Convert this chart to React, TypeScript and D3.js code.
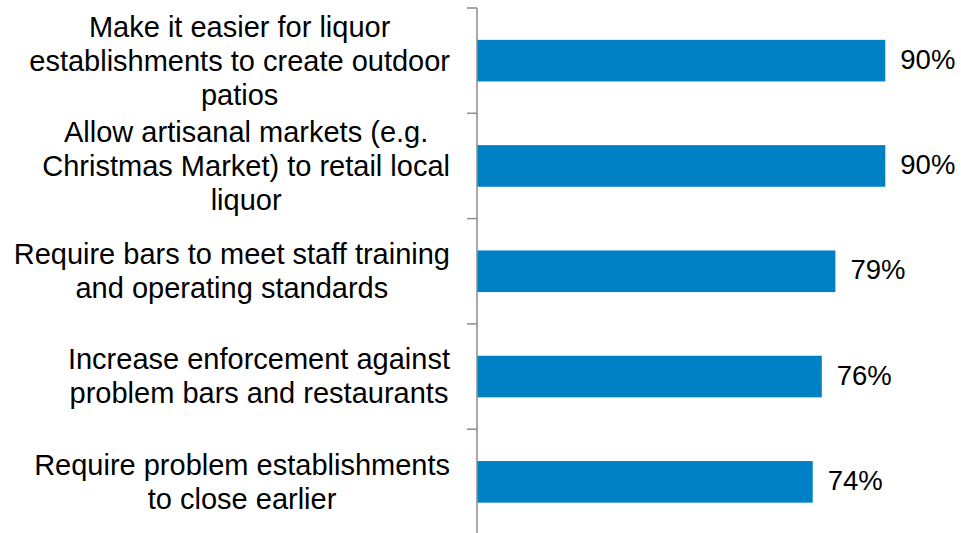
import React, { useEffect, useRef } from "react";
import * as d3 from "d3";

const categories: string[][] = [
  ["Make it easier for liquor", "establishments to create outdoor", "patios"],
  ["Allow artisanal markets (e.g.", "Christmas Market) to retail local", "liquor"],
  ["Require bars to meet staff training", "and operating standards"],
  ["Increase enforcement against", "problem bars and restaurants"],
  ["Require problem establishments", "to close earlier"],
];
const values: number[] = [90, 90, 79, 76, 74];
const valueLabels: string[] = ["90%", "90%", "79%", "76%", "74%"];

const W = 961;
const H = 533;

const App = () => {
  const ref = useRef<SVGSVGElement>(null);

  useEffect(() => {
    const svg = d3.select(ref.current);
    svg.selectAll("*").remove();

    const axisX = 477;
    const font = "Liberation Sans, Arial, sans-serif";
    const fontSize = 29;
    const lineH = 34;

    const y = d3
      .scaleBand<number>()
      .domain(d3.range(values.length))
      .range([8, 534.5])
      .paddingInner(0.605)
      .paddingOuter(0.3025);

    const x = d3.scaleLinear().domain([0, 90]).range([axisX, 885.3]);

    // bars
    svg
      .selectAll("rect.bar")
      .data(values)
      .enter()
      .append("rect")
      .attr("class", "bar")
      .attr("x", x(0))
      .attr("y", (_, i) => y(i)!)
      .attr("width", (d) => x(d) - x(0))
      .attr("height", y.bandwidth())
      .attr("fill", "#0081c6");

    // value labels
    svg
      .selectAll("text.val")
      .data(values)
      .enter()
      .append("text")
      .attr("class", "val")
      .attr("x", (d) => x(d) + 15)
      .attr("y", (_, i) => y(i)! + y.bandwidth() / 2)
      .attr("dy", "0.29em")
      .attr("font-family", font)
      .attr("font-size", 27.5)
      .attr("fill", "#000")
      .text((_, i) => valueLabels[i]);

    // axis line + ticks at band boundaries
    const step = y.step();
    const top = 8;
    svg
      .append("line")
      .attr("x1", axisX)
      .attr("x2", axisX)
      .attr("y1", top)
      .attr("y2", H)
      .attr("stroke", "#8c8c8c")
      .attr("stroke-width", 1.5);

    svg
      .selectAll("line.tick")
      .data(d3.range(values.length + 1))
      .enter()
      .append("line")
      .attr("class", "tick")
      .attr("x1", axisX - 10)
      .attr("x2", axisX)
      .attr("y1", (i) => top + i * step)
      .attr("y2", (i) => top + i * step)
      .attr("stroke", "#8c8c8c")
      .attr("stroke-width", 1.5);

    // category labels, lines centred, block right edge near 450
    categories.forEach((lines, i) => {
      const cy = y(i)! + y.bandwidth() / 2;
      const g = svg.append("g");
      const t = g
        .append("text")
        .attr("font-family", font)
        .attr("font-size", fontSize)
        .attr("fill", "#000")
        .attr("text-anchor", "middle");
      lines.forEach((ln, j) => {
        t.append("tspan")
          .attr("x", 0)
          .attr("y", cy + (j - (lines.length - 1) / 2) * lineH)
          .attr("dy", "0.34em")
          .text(ln);
      });
      const maxW = d3.max(t.selectAll<SVGTSpanElement, unknown>("tspan").nodes(), (n) => n.getComputedTextLength()) || 0;
      g.attr("transform", `translate(${450 - maxW / 2},0)`);
    });
  }, []);

  return (
    <svg
      ref={ref}
      width={W}
      height={H}
      style={{ position: "absolute", left: 0, top: 0, background: "#fff" }}
    />
  );
};

export default App;
